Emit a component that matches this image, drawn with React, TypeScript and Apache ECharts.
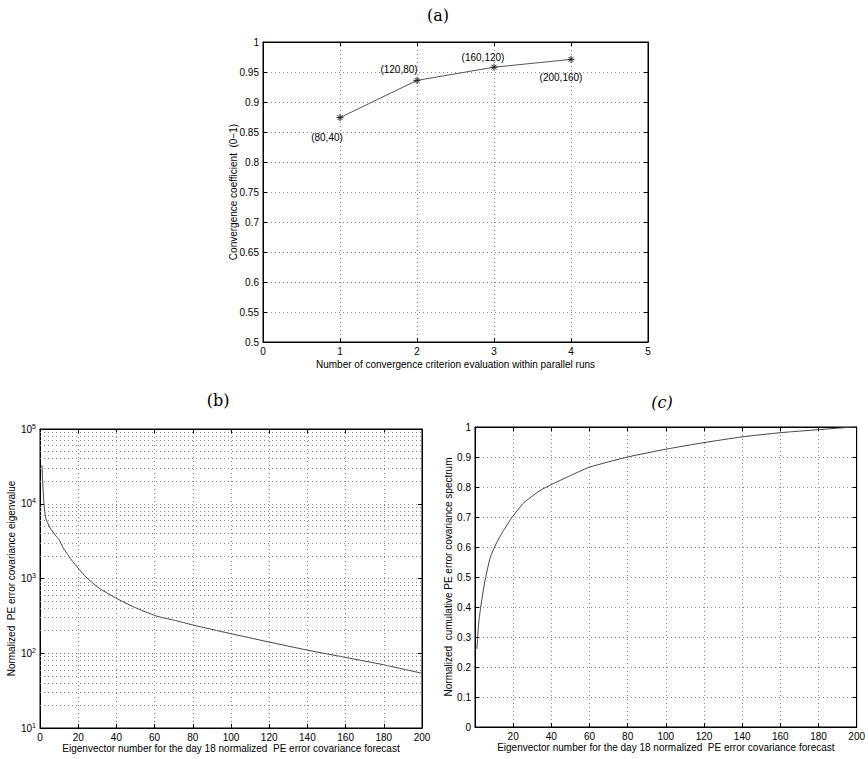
import React, { useEffect, useRef } from "react";
import * as echarts from "echarts";

// ---- Data ----
const aRuns = [1, 2, 3, 4];
const aCoefficient = [0.874, 0.936, 0.958, 0.971];
const aPointLabels = ["(80,40)", "(120,80)", "(160,120)", "(200,160)"];

const bIndex = [1, 2, 3, 5, 8, 10, 12, 17, 24, 31, 40, 49, 61, 70, 80, 99, 119, 140, 160, 180, 200];
const bEigen = [33000, 10500, 6500, 4900, 3800, 3300, 2600, 1700, 1050, 740, 543, 417, 314, 278, 239, 185, 143, 110, 88, 70, 54];

const cIndex = [1, 2, 3, 5, 8, 11, 14, 19, 25, 28, 34, 40, 50, 60, 80, 100, 120, 140, 160, 180, 194, 200];
const cCumulative = [0.26, 0.35, 0.4, 0.48, 0.565, 0.61, 0.645, 0.695, 0.744, 0.76, 0.788, 0.808, 0.838, 0.866, 0.9, 0.926, 0.948, 0.967, 0.981, 0.991, 0.998, 1.0];

const bDecades = [10, 100, 1000, 10000];
const bMinorMultipliers = [2, 3, 4, 5, 6, 7, 8, 9];

const panelTitles = ["(a)", "(b)", "(c)"];
const aXName = "Number of convergence criterion evaluation within parallel runs";
const aYName = "Convergence coefficient  (0\u22121)";
const bXName = "Eigenvector number for the day 18 normalized  PE error covariance forecast";
const bYName = "Normalized  PE error covariance eigenvalue";
const cYName = "Normalized  cumulative PE error covariance spectrum";

const FONT = "Liberation Sans";
const GRIDCOLOR = "#8a8a8a";

const labelOffsets: [number, number][] = [[-13, 20], [-18, -11], [-11, -10], [-10, 18]];

function App() {
  const ref = useRef<HTMLDivElement>(null);
  useEffect(() => {
    if (!ref.current) return;
    const chart = echarts.init(ref.current, undefined, { renderer: "svg" });

    const axisCommon = {
      axisLine: { show: true, onZero: false, lineStyle: { color: "#000", width: 1 } },
      axisTick: { show: true, inside: true, length: 4, lineStyle: { color: "#000" } },
      axisLabel: { color: "#000", fontFamily: FONT, fontSize: 10, margin: 4 },
      nameTextStyle: { color: "#000", fontFamily: FONT, fontSize: 10 },
      nameMoveOverlap: false,
      splitLine: { show: true, lineStyle: { color: GRIDCOLOR, type: [1, 3], width: 1 } },
    };
    const mirror = {
      axisLine: { show: true, onZero: false, lineStyle: { color: "#000", width: 1 } },
      axisTick: { show: true, inside: true, length: 4, lineStyle: { color: "#000" } },
      axisLabel: { show: false },
      splitLine: { show: false },
    };

    const minorGrid: number[] = [];
    bDecades.forEach((d) => bMinorMultipliers.forEach((m) => minorGrid.push(d * m)));

    const starPath = "path://M4,0L4,8M0,4L8,4M1.2,1.2L6.8,6.8M6.8,1.2L1.2,6.8";
    const titleFont = "16px 'DejaVu Serif'";

    const option: any = {
      animation: false,
      backgroundColor: "#fff",
      grid: [
        { left: 263, top: 42, width: 385, height: 300, show: true, borderColor: "#000", borderWidth: 1 },
        { left: 40, top: 429, width: 382, height: 299, show: true, borderColor: "#000", borderWidth: 1 },
        { left: 475, top: 427, width: 385, height: 300, show: true, borderColor: "#000", borderWidth: 1 },
      ],
      xAxis: [
        { ...axisCommon, type: "value", gridIndex: 0, min: 0, max: 5, interval: 1, position: "bottom",
          name: aXName, nameLocation: "middle", nameGap: 17 },
        { ...mirror, type: "value", gridIndex: 0, min: 0, max: 5, interval: 1, position: "top" },
        { ...axisCommon, type: "value", gridIndex: 1, min: 0, max: 200, interval: 20, position: "bottom",
          name: bXName, nameLocation: "middle", nameGap: 15 },
        { ...mirror, type: "value", gridIndex: 1, min: 0, max: 200, interval: 20, position: "top" },
        { ...axisCommon, type: "value", gridIndex: 2, min: 0, max: 200, interval: 20, position: "bottom",
          axisLabel: { ...axisCommon.axisLabel, showMinLabel: false },
          name: bXName, nameLocation: "middle", nameGap: 15 },
        { ...mirror, type: "value", gridIndex: 2, min: 0, max: 200, interval: 20, position: "top" },
      ],
      yAxis: [
        { ...axisCommon, type: "value", gridIndex: 0, min: 0.5, max: 1, interval: 0.05, position: "left",
          name: aYName, nameLocation: "middle", nameGap: 25, nameRotate: 90 },
        { ...mirror, type: "value", gridIndex: 0, min: 0.5, max: 1, interval: 0.05, position: "right" },
        { ...axisCommon, type: "log", logBase: 10, gridIndex: 1, min: 10, max: 100000, position: "left",
          axisLabel: {
            ...axisCommon.axisLabel,
            formatter: (v: number) => `{b|10}{s|${Math.round(Math.log10(v))}}`,
            rich: {
              b: { fontFamily: FONT, fontSize: 10, color: "#000" },
              s: { fontFamily: FONT, fontSize: 7, color: "#000", verticalAlign: "top", padding: [0, 0, 6, 0] },
            },
          },
          name: bYName, nameLocation: "middle", nameGap: 24, nameRotate: 90 },
        { ...mirror, type: "log", logBase: 10, gridIndex: 1, min: 10, max: 100000, position: "right" },
        { ...axisCommon, type: "value", gridIndex: 2, min: 0, max: 1, interval: 0.1, position: "left",
          name: cYName, nameLocation: "middle", nameGap: 22, nameRotate: 90 },
        { ...mirror, type: "value", gridIndex: 2, min: 0, max: 1, interval: 0.1, position: "right" },
      ],
      series: [
        {
          type: "line",
          xAxisIndex: 0,
          yAxisIndex: 0,
          data: aRuns.map((x, i) => ({
            value: [x, aCoefficient[i]],
            label: {
              show: true,
              position: "inside",
              offset: labelOffsets[i],
              formatter: aPointLabels[i],
              color: "#000",
              fontFamily: FONT,
              fontSize: 10,
            },
          })),
          symbol: starPath,
          symbolSize: 7,
          showAllSymbol: true,
          itemStyle: { color: "transparent", borderColor: "#222", borderWidth: 1 },
          lineStyle: { color: "#555", width: 1 },
          emphasis: { disabled: true },
        },
        {
          type: "line",
          xAxisIndex: 2,
          yAxisIndex: 2,
          data: bIndex.map((x, i) => [x, bEigen[i]]),
          symbol: "none",
          smooth: 0.2,
          lineStyle: { color: "#444", width: 1 },
          markLine: {
            silent: true,
            symbol: "none",
            label: { show: false },
            lineStyle: { color: GRIDCOLOR, type: [1, 3], width: 1 },
            data: minorGrid.map((v) => ({ yAxis: v })),
          },
        },
        {
          type: "line",
          xAxisIndex: 4,
          yAxisIndex: 4,
          data: cIndex.map((x, i) => [x, cCumulative[i]]),
          symbol: "none",
          smooth: 0.2,
          lineStyle: { color: "#444", width: 1 },
        },
      ],
      graphic: [
        { type: "text", x: 438, y: 15, style: { text: panelTitles[0], font: titleFont, fill: "#000", align: "center", verticalAlign: "middle" } },
        { type: "text", x: 218, y: 400, style: { text: panelTitles[1], font: titleFont, fill: "#000", align: "center", verticalAlign: "middle" } },
        { type: "text", x: 662, y: 402, style: { text: panelTitles[2], font: "italic " + titleFont, fill: "#000", align: "center", verticalAlign: "middle" } },
      ],
    };
    chart.setOption(option);
    return () => chart.dispose();
  }, []);
  return <div ref={ref} style={{ position: "fixed", left: 0, top: 0, width: 868, height: 759 }} />;
}

export default App;
